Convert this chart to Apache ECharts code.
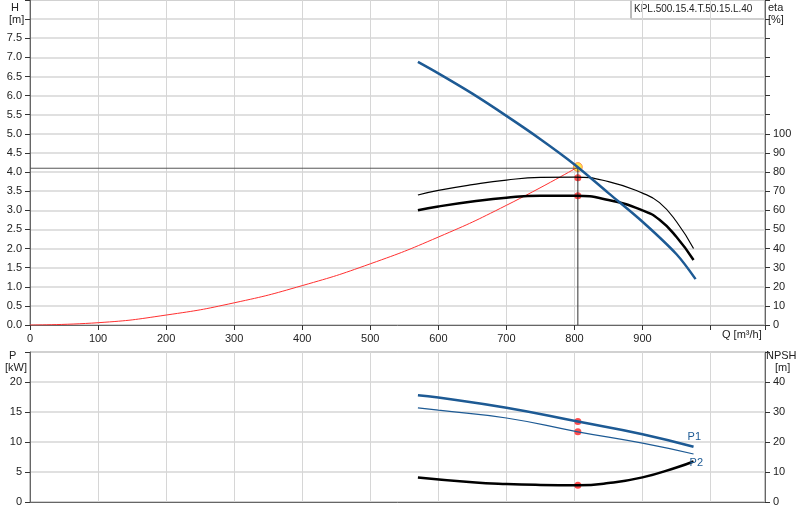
<!DOCTYPE html><html><head><meta charset="utf-8"><script src="https://cdn.jsdelivr.net/npm/echarts@6/dist/echarts.min.js"></script>
<style>html,body{margin:0;background:#fff}#c{width:800px;height:520px}</style></head><body><div id="c"></div><script>
const qH=[570,600,650,700,750,800,850,900,950,978];
const H=[6.88,6.58,6.05,5.47,4.86,4.2,3.45,2.7,1.85,1.2];
const qE=[570,600,650,700,750,800,850,900,925,950,975];
const eta1=[68,70.4,73.4,75.8,77.2,77.4,75,69,64,54,40];
const eta2=[60,62,64.6,66.6,67.6,67.6,65.4,60,55,46,34];
const qS=[0,100,200,300,400,500,600,700,805];
const Hs=[0,0.06,0.26,0.58,1.03,1.6,2.3,3.13,4.13];
const qP=[570,600,700,805,900,975];
const P1=[17.8,17.4,15.7,13.4,11.3,9.2];
const P2=[15.7,15.3,14.0,11.7,9.8,8.0];
const qN=[570,650,700,750,805,850,900,950,975];
const NPSH=[8.2,6.6,6.0,5.7,5.6,6.3,8.2,11.5,13.5];
const op={q:805,H:4.13,eta1:77,eta2:67.6,P1:13.4,P2:11.7,N:5.6};
const z=(a,b)=>a.map((v,i)=>[v,b[i]]);
const F='Liberation Sans',tc='#222',gl='#d6d6d6';
const ax={axisLine:{show:true,lineStyle:{color:'#666'}},axisTick:{show:true,lineStyle:{color:'#333'}},axisLabel:{color:tc,fontFamily:F,fontSize:11}};
const ch=echarts.init(document.getElementById('c'));
ch.setOption({animation:false,
grid:[{left:30,right:35,top:0,height:325,show:true,borderColor:'#888'},{left:30,right:35,top:352,height:150,show:true,borderColor:'#888'}],
xAxis:[{gridIndex:0,min:0,max:1080,interval:100,...ax,axisLabel:{...ax.axisLabel,formatter:v=>v<=900?v:''},splitLine:{lineStyle:{color:gl}}},
{gridIndex:1,min:0,max:1080,interval:100,...ax,axisLabel:{show:false},axisTick:{show:false},splitLine:{lineStyle:{color:gl}}}],
yAxis:[{gridIndex:0,min:0,max:8.5,interval:0.5,...ax,axisLabel:{...ax.axisLabel,formatter:v=>v<=7.5?v.toFixed(1):''},splitLine:{lineStyle:{color:gl,width:1.5}}},
{gridIndex:0,position:'right',min:0,max:170,interval:10,...ax,axisLabel:{...ax.axisLabel,formatter:v=>v<=100?v:''},splitLine:{show:false}},
{gridIndex:1,min:0,max:25,interval:5,...ax,axisLabel:{...ax.axisLabel,formatter:v=>v<=20?v:''},splitLine:{lineStyle:{color:gl,width:1.5}}},
{gridIndex:1,position:'right',min:0,max:50,interval:10,...ax,axisLabel:{...ax.axisLabel,formatter:v=>v<=40?v:''},splitLine:{show:false}}],
series:[
{type:'line',xAxisIndex:0,yAxisIndex:0,data:z(qS,Hs),smooth:true,symbol:'none',lineStyle:{color:'#ff3030',width:1}},
{type:'line',xAxisIndex:0,yAxisIndex:0,data:[[0,4.1],[op.q,4.1]],symbol:'none',lineStyle:{color:'#555',width:1}},
{type:'line',xAxisIndex:0,yAxisIndex:0,data:[[op.q,0],[op.q,4.1]],symbol:'none',lineStyle:{color:'#333',width:1}},
{type:'line',xAxisIndex:0,yAxisIndex:1,data:z(qE,eta1),smooth:true,symbol:'none',lineStyle:{color:'#000',width:1.2}},
{type:'line',xAxisIndex:0,yAxisIndex:1,data:z(qE,eta2),smooth:true,symbol:'none',lineStyle:{color:'#000',width:2.5}},
{type:'line',xAxisIndex:0,yAxisIndex:0,data:z(qH,H),smooth:0.3,symbol:'none',lineStyle:{color:'#1d5a94',width:2.5}},
{type:'scatter',xAxisIndex:0,yAxisIndex:1,data:[[op.q,op.eta1],[op.q,op.eta2]],symbolSize:7,itemStyle:{color:'#ff2020'}},
{type:'scatter',xAxisIndex:0,yAxisIndex:0,data:[[op.q,op.H]],symbolSize:9,itemStyle:{color:'#ffe020',borderColor:'#ff8040',borderWidth:1}},
{type:'line',xAxisIndex:1,yAxisIndex:2,data:z(qP,P1),smooth:true,symbol:'none',lineStyle:{color:'#1d5a94',width:2.5},endLabel:{show:true,formatter:'P1',color:'#1d5a94',fontFamily:F,fontSize:11,offset:[-14,-10]}},
{type:'line',xAxisIndex:1,yAxisIndex:2,data:z(qP,P2),smooth:true,symbol:'none',lineStyle:{color:'#1d5a94',width:1.2},endLabel:{show:true,formatter:'P2',color:'#1d5a94',fontFamily:F,fontSize:11,offset:[-12,9]}},
{type:'line',xAxisIndex:1,yAxisIndex:3,data:z(qN,NPSH),smooth:true,symbol:'none',lineStyle:{color:'#000',width:2.5}},
{type:'scatter',xAxisIndex:1,yAxisIndex:2,data:[[op.q,op.P1],[op.q,op.P2]],symbolSize:7,itemStyle:{color:'#ff2020'}},
{type:'scatter',xAxisIndex:1,yAxisIndex:3,data:[[op.q,op.N]],symbolSize:7,itemStyle:{color:'#ff2020'}}
],
graphic:[
{type:'rect',shape:{x:631,y:0,width:134,height:19},style:{fill:'#fff',stroke:'#777'}},
{type:'text',x:634,y:4,style:{text:'KPL.500.15.4.T.50.15.L.40',fill:tc,font:'10px '+F}},
{type:'text',x:11,y:2,style:{text:'H',fill:tc,font:'11px '+F}},
{type:'text',x:9,y:14,style:{text:'[m]',fill:tc,font:'11px '+F}},
{type:'text',x:768,y:2,style:{text:'eta',fill:tc,font:'11px '+F}},
{type:'text',x:768,y:14,style:{text:'[%]',fill:tc,font:'11px '+F}},
{type:'text',x:722,y:329,style:{text:'Q [m³/h]',fill:tc,font:'11px '+F}},
{type:'text',x:9,y:350,style:{text:'P',fill:tc,font:'11px '+F}},
{type:'text',x:5,y:362,style:{text:'[kW]',fill:tc,font:'11px '+F}},
{type:'text',x:766,y:350,style:{text:'NPSH',fill:tc,font:'11px '+F}},
{type:'text',x:775,y:362,style:{text:'[m]',fill:tc,font:'11px '+F}}
]});
</script></body></html>
